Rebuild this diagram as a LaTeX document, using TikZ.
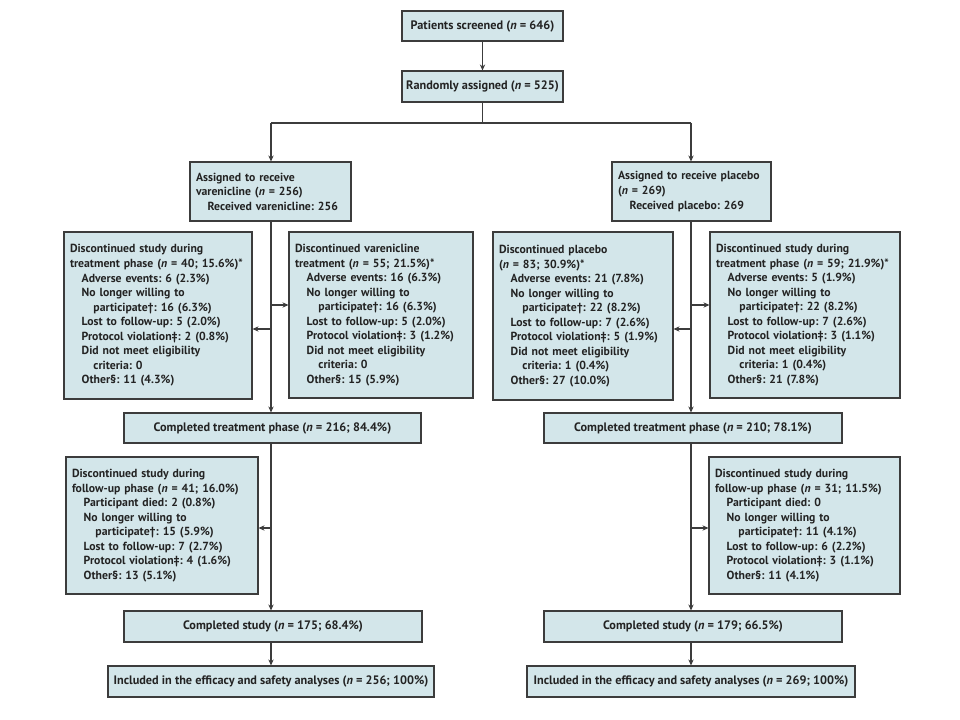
\documentclass[tikz,border=0pt]{standalone}
\usepackage{fontspec}
\setmainfont{PT Sans}
\usetikzlibrary{arrows.meta}
\definecolor{fillc}{RGB}{211,230,234}
\definecolor{bordc}{RGB}{60,60,60}
\definecolor{textc}{RGB}{35,35,35}
\newcommand{\nn}{\textit{n}}
\newcommand{\ia}{\hspace*{1em}}
\newcommand{\ib}{\hspace*{2em}}
\frenchspacing
\begin{document}
\begin{tikzpicture}[x=0.75pt,y=-0.75pt,
  box/.style={draw=bordc, fill=fillc, line width=0.8pt, inner sep=0pt, text=textc,
    font=\fontsize{9.2}{11}\selectfont\bfseries\frenchspacing, align=center},
  lbox/.style={box, align=left, inner xsep=4.5pt, font=\fontsize{8.8}{10.9}\selectfont\bfseries\frenchspacing},
  arr/.style={draw=bordc, line width=0.8pt, -{Stealth[length=4.5pt,width=4pt]}},
  ln/.style={draw=bordc, line width=0.8pt}]
\useasboundingbox[fill=white] (0,0) rectangle (960,720);

\node[box, minimum width=120.75pt, minimum height=22.5pt] (scr) at (482.5,26) {Patients screened (\nn{} = 646)};
\node[box, minimum width=120.75pt, minimum height=23.25pt] (rand) at (482.5,86.5) {Randomly assigned (\nn{} = 525)};

\node[lbox, text width=111.75pt, minimum height=44.25pt] (av) at (270.5,191.5) {Assigned to receive\\varenicline (\nn{} = 256)\\\ia Received varenicline: 256};
\node[lbox, text width=110.25pt, minimum height=44.25pt] (ap) at (691.5,191.5) {Assigned to receive placebo\\(\nn{} = 269)\\\ia Received placebo: 269};

\node[lbox, text width=132pt, minimum height=125.25pt] (d1) at (158,315.5) {Discontinued study during\\treatment phase (\nn{} = 40; 15.6\%)*\\\ia Adverse events: 6 (2.3\%)\\\ia No longer willing to\\\ib participate†: 16 (6.3\%)\\\ia Lost to follow-up: 5 (2.0\%)\\\ia Protocol violation‡: 2 (0.8\%)\\\ia Did not meet eligibility\\\ib criteria: 0\\\ia Other§: 11 (4.3\%)};
\node[lbox, text width=129pt, minimum height=124.5pt] (d2) at (381,315) {Discontinued varenicline\\treatment (\nn{} = 55; 21.5\%)*\\\ia Adverse events: 16 (6.3\%)\\\ia No longer willing to\\\ib participate†: 16 (6.3\%)\\\ia Lost to follow-up: 5 (2.0\%)\\\ia Protocol violation‡: 3 (1.2\%)\\\ia Did not meet eligibility\\\ib criteria: 0\\\ia Other§: 15 (5.9\%)};
\node[lbox, text width=126pt, minimum height=126pt] (d3) at (583,316) {Discontinued placebo\\(\nn{} = 83; 30.9\%)*\\\ia Adverse events: 21 (7.8\%)\\\ia No longer willing to\\\ib participate†: 22 (8.2\%)\\\ia Lost to follow-up: 7 (2.6\%)\\\ia Protocol violation‡: 5 (1.9\%)\\\ia Did not meet eligibility\\\ib criteria: 1 (0.4\%)\\\ia Other§: 27 (10.0\%)};
\node[lbox, text width=133.5pt, minimum height=124.5pt] (d4) at (805,315) {Discontinued study during\\treatment phase (\nn{} = 59; 21.9\%)*\\\ia Adverse events: 5 (1.9\%)\\\ia No longer willing to\\\ib participate†: 22 (8.2\%)\\\ia Lost to follow-up: 7 (2.6\%)\\\ia Protocol violation‡: 3 (1.1\%)\\\ia Did not meet eligibility\\\ib criteria: 1 (0.4\%)\\\ia Other§: 21 (7.8\%)};

\node[box, minimum width=222.75pt, minimum height=22.5pt] (ct1) at (272.5,428) {Completed treatment phase (\nn{} = 216; 84.4\%)};
\node[box, minimum width=223.5pt, minimum height=22.5pt] (ct2) at (693,428) {Completed treatment phase (\nn{} = 210; 78.1\%)};

\node[lbox, text width=135pt, minimum height=102.75pt] (f1) at (162,525.5) {Discontinued study during\\follow-up phase (\nn{} = 41; 16.0\%)\\\ia Participant died: 2 (0.8\%)\\\ia No longer willing to\\\ib participate†: 15 (5.9\%)\\\ia Lost to follow-up: 7 (2.7\%)\\\ia Protocol violation‡: 4 (1.6\%)\\\ia Other§: 13 (5.1\%)};
\node[lbox, text width=134.25pt, minimum height=102.75pt] (f2) at (804.5,525.5) {Discontinued study during\\follow-up phase (\nn{} = 31; 11.5\%)\\\ia Participant died: 0\\\ia No longer willing to\\\ib participate†: 11 (4.1\%)\\\ia Lost to follow-up: 6 (2.2\%)\\\ia Protocol violation‡: 3 (1.1\%)\\\ia Other§: 11 (4.1\%)};

\node[box, minimum width=223.5pt, minimum height=23.25pt] (cs1) at (273,626.5) {Completed study (\nn{} = 175; 68.4\%)};
\node[box, minimum width=223.5pt, minimum height=23.25pt] (cs2) at (693,626.5) {Completed study (\nn{} = 179; 66.5\%)};

\node[box, minimum width=244.5pt, minimum height=23.25pt] (in1) at (271,681.5) {Included in the efficacy and safety analyses (\nn{} = 256; 100\%)};
\node[box, minimum width=246pt, minimum height=23.25pt] (in2) at (691,681.5) {Included in the efficacy and safety analyses (\nn{} = 269; 100\%)};

% connectors
\coordinate (sp) at (482.5,123);
\coordinate (spl) at (271,123);
\coordinate (spr) at (691,123);
\coordinate (t1) at (271,305);
\coordinate (t2) at (271,329);
\coordinate (t3) at (691,305);
\coordinate (t4) at (691,329);
\coordinate (t5) at (271,528);
\coordinate (t6) at (691,528);

\draw[arr] (scr) -- (rand);
\draw[ln] (rand) -- (sp);
\draw[ln] (spl) -- (spr);
\draw[arr] (spl) -- (spl |- av.north);
\draw[arr] (spr) -- (spr |- ap.north);

\draw[arr] (av.south -| spl) -- (ct1.north -| spl);
\draw[arr] (t2) -- (t2 -| d1.east);
\draw[arr] (t1) -- (t1 -| d2.west);
\draw[arr] (ap.south -| spr) -- (ct2.north -| spr);
\draw[arr] (t4) -- (t4 -| d3.east);
\draw[arr] (t3) -- (t3 -| d4.west);

\draw[arr] (ct1.south -| spl) -- (cs1.north -| spl);
\draw[arr] (t5) -- (t5 -| f1.east);
\draw[arr] (ct2.south -| spr) -- (cs2.north -| spr);
\draw[arr] (t6) -- (t6 -| f2.west);

\draw[arr] (cs1.south -| spl) -- (in1.north -| spl);
\draw[arr] (cs2.south -| spr) -- (in2.north -| spr);
\end{tikzpicture}
\end{document}
